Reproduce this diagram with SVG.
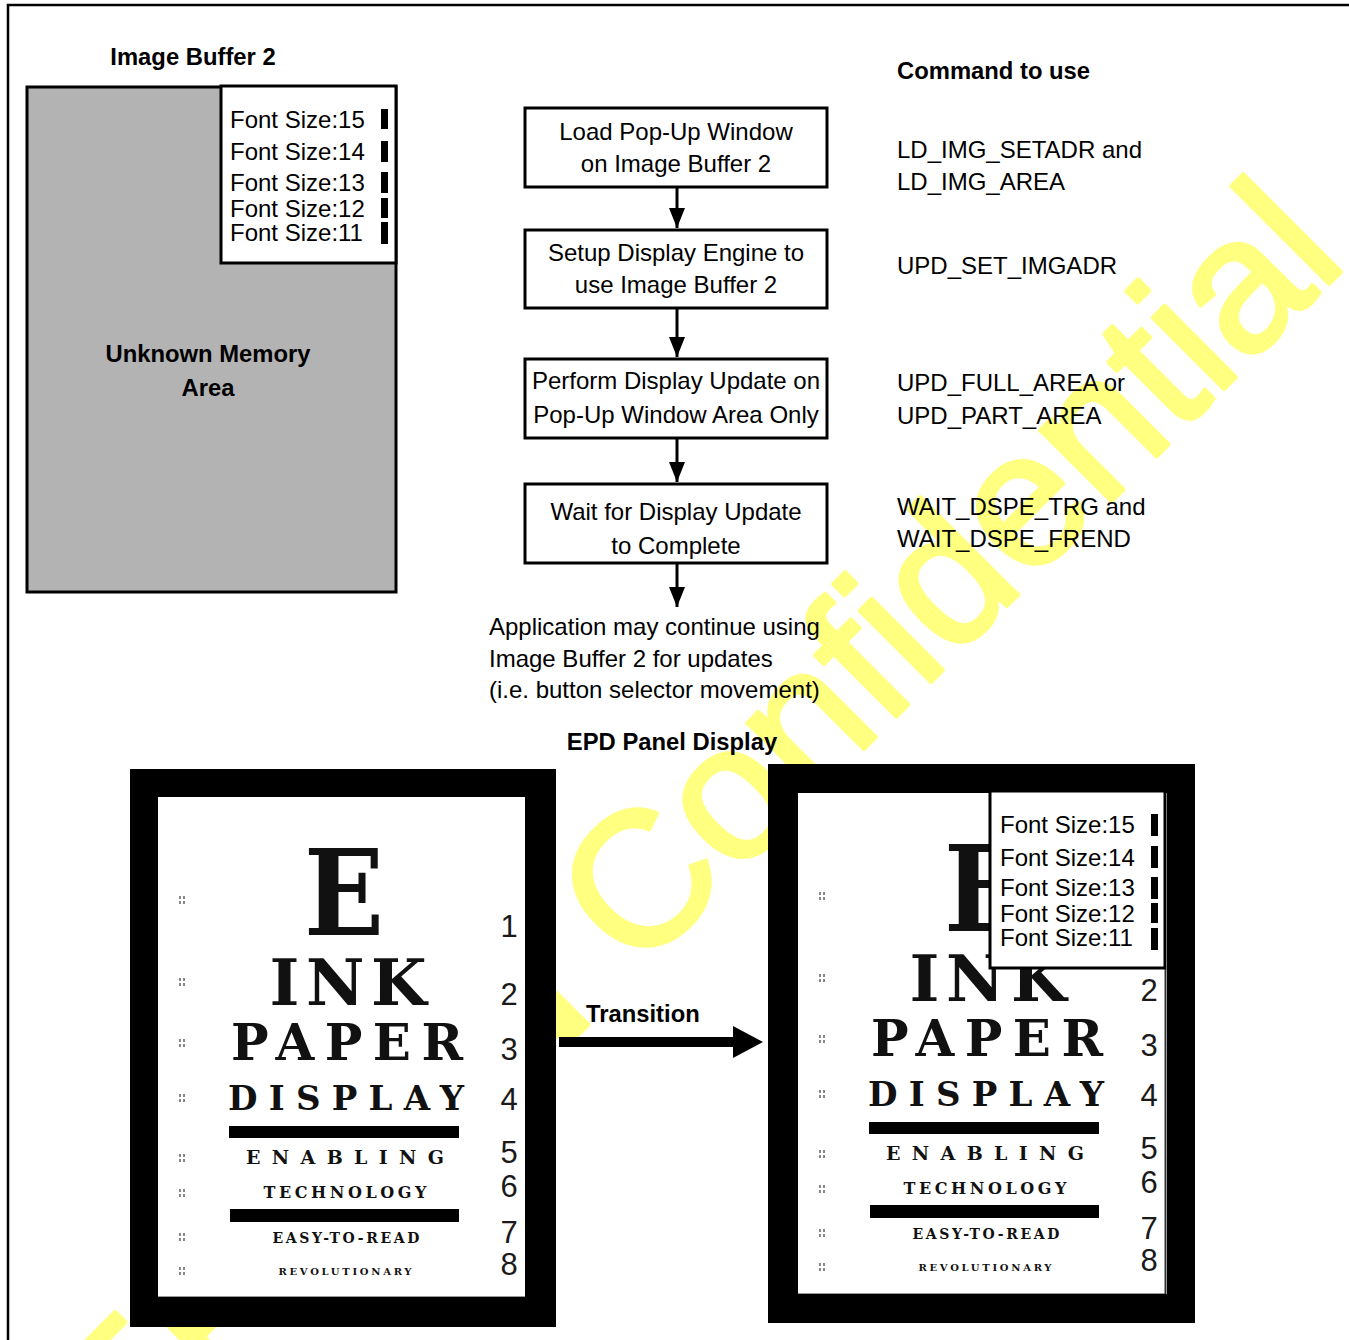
<svg xmlns="http://www.w3.org/2000/svg" width="1349" height="1340" viewBox="0 0 1349 1340">
  <style>
    .reg { font-family: "Liberation Sans", Arial, sans-serif; font-size: 24px; fill: #000; }
    .bold { font-family: "Liberation Sans", Arial, sans-serif; font-size: 23.8px; font-weight: bold; fill: #000; }
    .mid { text-anchor: middle; }
    .box { fill: #fff; stroke: #000; stroke-width: 3; }
    .conn { stroke: #000; stroke-width: 3; fill: none; }
    .chart { font-family: "DejaVu Serif", "Liberation Serif", serif; font-weight: bold; fill: #111; text-anchor: middle; }
    .num { font-family: "Liberation Sans", Arial, sans-serif; font-size: 31px; fill: #1a1a1a; text-anchor: middle; }
    .tick { fill: #888; }
    .mark { fill: #000; }
  </style>
  <defs>
    <marker id="arrow" markerUnits="userSpaceOnUse" markerWidth="20" markerHeight="16" refX="20" refY="8" orient="auto">
      <path d="M0,0 L20,8 L0,16 Z" fill="#000"/>
    </marker>
    <marker id="bigArrow" markerUnits="userSpaceOnUse" markerWidth="30" markerHeight="32" refX="3" refY="16" orient="auto">
      <path d="M0,0 L30,16 L0,32 Z" fill="#000"/>
    </marker>
    <!-- tiny acuity ratio marks printed at the left of each chart row -->
    <g id="tickMark">
      <rect x="0" y="0" width="2" height="3" class="tick"/>
      <rect x="4" y="0" width="2" height="3" class="tick"/>
      <rect x="0" y="5" width="2" height="3" class="tick"/>
      <rect x="4" y="5" width="2" height="3" class="tick"/>
    </g>
  </defs>

  <rect x="0" y="0" width="1349" height="1340" fill="#fff"/>

  <!-- watermark -->
  <text transform="translate(637 976) rotate(-45)" x="-722" y="0" font-family="Liberation Sans, Arial, sans-serif" font-size="191" fill="#ffff80" stroke="#ffff80" stroke-width="4" stroke-linejoin="round">EPSON Confidential</text>

  <!-- page frame -->
  <path d="M8,1340 V5 H1349" fill="none" stroke="#000" stroke-width="2.5"/>

  <!-- image buffer memory map -->
  <g id="image-buffer">
    <text class="bold mid" x="193" y="65">Image Buffer 2</text>
    <rect x="27" y="87" width="369" height="505" fill="#b3b3b3" stroke="#000" stroke-width="3"/>
    <text class="bold mid" x="208" y="362">Unknown Memory</text>
    <text class="bold mid" x="208" y="396">Area</text>
  </g>
  <g id="popup-buffer">
    <rect x="221" y="86" width="175" height="177" fill="#fff" stroke="#000" stroke-width="3"/>
    <text class="reg" x="230" y="128">Font Size:15</text>
    <text class="reg" x="230" y="160">Font Size:14</text>
    <text class="reg" x="230" y="191">Font Size:13</text>
    <text class="reg" x="230" y="217">Font Size:12</text>
    <text class="reg" x="230" y="241">Font Size:11</text>
    <rect class="mark" x="381" y="109" width="7" height="20"/>
    <rect class="mark" x="381" y="141" width="7" height="21"/>
    <rect class="mark" x="381" y="172" width="7" height="21"/>
    <rect class="mark" x="381" y="198" width="7" height="20"/>
    <rect class="mark" x="381" y="222" width="7" height="22"/>
  </g>

  <!-- command column -->
  <g id="commands">
    <text class="bold" x="897" y="79">Command to use</text>
    <text class="reg" x="897" y="158">LD_IMG_SETADR and</text>
    <text class="reg" x="897" y="190">LD_IMG_AREA</text>
    <text class="reg" x="897" y="274">UPD_SET_IMGADR</text>
    <text class="reg" x="897" y="391">UPD_FULL_AREA or</text>
    <text class="reg" x="897" y="424">UPD_PART_AREA</text>
    <text class="reg" x="897" y="515">WAIT_DSPE_TRG and</text>
    <text class="reg" x="897" y="547">WAIT_DSPE_FREND</text>
  </g>

  <!-- flow steps -->
  <g id="step-load">
    <rect class="box" x="525" y="108" width="302" height="79"/>
    <text class="reg mid" x="676" y="140">Load Pop-Up Window</text>
    <text class="reg mid" x="676" y="172">on Image Buffer 2</text>
  </g>
  <g id="step-setup">
    <rect class="box" x="525" y="230" width="302" height="78"/>
    <text class="reg mid" x="676" y="261">Setup Display Engine to</text>
    <text class="reg mid" x="676" y="293">use Image Buffer 2</text>
  </g>
  <g id="step-update">
    <rect class="box" x="525" y="359" width="302" height="79"/>
    <text class="reg mid" x="676" y="389">Perform Display Update on</text>
    <text class="reg mid" x="676" y="423">Pop-Up Window Area Only</text>
  </g>
  <g id="step-wait">
    <rect class="box" x="525" y="484" width="302" height="79"/>
    <text class="reg mid" x="676" y="520">Wait for Display Update</text>
    <text class="reg mid" x="676" y="554">to Complete</text>
  </g>
  <g id="step-continue">
    <text class="reg" x="489" y="635">Application may continue using</text>
    <text class="reg" x="489" y="667">Image Buffer 2 for updates</text>
    <text class="reg" x="489" y="698">(i.e. button selector movement)</text>
  </g>

  <g id="connectors">
    <line class="conn" x1="677" y1="188" x2="677" y2="228" marker-end="url(#arrow)"/>
    <line class="conn" x1="677" y1="309" x2="677" y2="357" marker-end="url(#arrow)"/>
    <line class="conn" x1="677" y1="439" x2="677" y2="482" marker-end="url(#arrow)"/>
    <line class="conn" x1="677" y1="564" x2="677" y2="607" marker-end="url(#arrow)"/>
    <line x1="559" y1="1042" x2="736" y2="1042" stroke="#000" stroke-width="10" marker-end="url(#bigArrow)"/>
  </g>

  <g id="panel-title">
    <text class="bold mid" x="672" y="750">EPD Panel Display</text>
  </g>
  <g id="transition-label">
    <text class="bold" x="586" y="1022">Transition</text>
  </g>

  <!-- panel before the pop-up -->
  <g id="panel-before">
    <rect x="130" y="769" width="426" height="558" fill="#000"/>
    <rect x="158" y="797" width="367" height="500" fill="#fff"/>
    <line x1="158" y1="1296.5" x2="525" y2="1296.5" stroke="#999" stroke-width="1"/>
    <text class="chart" x="344" y="935" font-size="120" textLength="80" lengthAdjust="spacingAndGlyphs">E</text>
    <text class="chart" x="348" y="1005" font-size="64" textLength="157" lengthAdjust="spacing">INK</text>
    <text class="chart" x="347" y="1060" font-size="50" textLength="232" lengthAdjust="spacing">PAPER</text>
    <text class="chart" x="346" y="1110" font-size="34" textLength="236" lengthAdjust="spacing">DISPLAY</text>
    <rect x="229" y="1126" width="230" height="12" fill="#000"/>
    <text class="chart" x="345" y="1164" font-size="19" textLength="198" lengthAdjust="spacing">ENABLING</text>
    <text class="chart" x="345" y="1198" font-size="16" textLength="163" lengthAdjust="spacing">TECHNOLOGY</text>
    <rect x="230" y="1209" width="229" height="13" fill="#000"/>
    <text class="chart" x="346" y="1243" font-size="14" textLength="147" lengthAdjust="spacing">EASY-TO-READ</text>
    <text class="chart" x="345" y="1275" font-size="10" textLength="133" lengthAdjust="spacing">REVOLUTIONARY</text>
    <text class="num" x="509" y="937">1</text>
    <text class="num" x="509" y="1005">2</text>
    <text class="num" x="509" y="1060">3</text>
    <text class="num" x="509" y="1110">4</text>
    <text class="num" x="509" y="1163">5</text>
    <text class="num" x="509" y="1197">6</text>
    <text class="num" x="509" y="1243">7</text>
    <text class="num" x="509" y="1275">8</text>
    <use href="#tickMark" x="179" y="896"/>
    <use href="#tickMark" x="179" y="978"/>
    <use href="#tickMark" x="179" y="1039"/>
    <use href="#tickMark" x="179" y="1094"/>
    <use href="#tickMark" x="179" y="1154"/>
    <use href="#tickMark" x="179" y="1189"/>
    <use href="#tickMark" x="179" y="1233"/>
    <use href="#tickMark" x="179" y="1267"/>
  </g>

  <!-- panel after the pop-up is shown -->
  <g id="panel-after">
    <rect x="768" y="764" width="427" height="559" fill="#000"/>
    <rect x="798" y="793" width="369" height="501" fill="#fff"/>
    <line x1="798" y1="1293.5" x2="1165" y2="1293.5" stroke="#999" stroke-width="1"/>
    <line x1="1165.5" y1="969" x2="1165.5" y2="1294" stroke="#333" stroke-width="2"/>
    <text class="chart" x="984" y="931" font-size="120" textLength="80" lengthAdjust="spacingAndGlyphs">E</text>
    <text class="chart" x="988" y="1001" font-size="64" textLength="157" lengthAdjust="spacing">INK</text>
    <text class="chart" x="987" y="1056" font-size="50" textLength="232" lengthAdjust="spacing">PAPER</text>
    <text class="chart" x="986" y="1106" font-size="34" textLength="236" lengthAdjust="spacing">DISPLAY</text>
    <rect x="869" y="1122" width="230" height="12" fill="#000"/>
    <text class="chart" x="985" y="1160" font-size="19" textLength="198" lengthAdjust="spacing">ENABLING</text>
    <text class="chart" x="985" y="1194" font-size="16" textLength="163" lengthAdjust="spacing">TECHNOLOGY</text>
    <rect x="870" y="1205" width="229" height="13" fill="#000"/>
    <text class="chart" x="986" y="1239" font-size="14" textLength="147" lengthAdjust="spacing">EASY-TO-READ</text>
    <text class="chart" x="985" y="1271" font-size="10" textLength="133" lengthAdjust="spacing">REVOLUTIONARY</text>
    <text class="num" x="1149" y="933">1</text>
    <text class="num" x="1149" y="1001">2</text>
    <text class="num" x="1149" y="1056">3</text>
    <text class="num" x="1149" y="1106">4</text>
    <text class="num" x="1149" y="1159">5</text>
    <text class="num" x="1149" y="1193">6</text>
    <text class="num" x="1149" y="1239">7</text>
    <text class="num" x="1149" y="1271">8</text>
    <use href="#tickMark" x="819" y="892"/>
    <use href="#tickMark" x="819" y="974"/>
    <use href="#tickMark" x="819" y="1035"/>
    <use href="#tickMark" x="819" y="1090"/>
    <use href="#tickMark" x="819" y="1150"/>
    <use href="#tickMark" x="819" y="1185"/>
    <use href="#tickMark" x="819" y="1229"/>
    <use href="#tickMark" x="819" y="1263"/>
  </g>
  <g id="popup-panel">
    <rect x="990" y="791" width="175" height="177" fill="#fff" stroke="#000" stroke-width="3"/>
    <text class="reg" x="1000" y="833">Font Size:15</text>
    <text class="reg" x="1000" y="866">Font Size:14</text>
    <text class="reg" x="1000" y="896">Font Size:13</text>
    <text class="reg" x="1000" y="922">Font Size:12</text>
    <text class="reg" x="1000" y="946">Font Size:11</text>
    <rect class="mark" x="1151" y="814" width="7" height="22"/>
    <rect class="mark" x="1151" y="846" width="7" height="22"/>
    <rect class="mark" x="1151" y="877" width="7" height="22"/>
    <rect class="mark" x="1151" y="903" width="7" height="20"/>
    <rect class="mark" x="1151" y="928" width="7" height="22"/>
  </g>
</svg>
